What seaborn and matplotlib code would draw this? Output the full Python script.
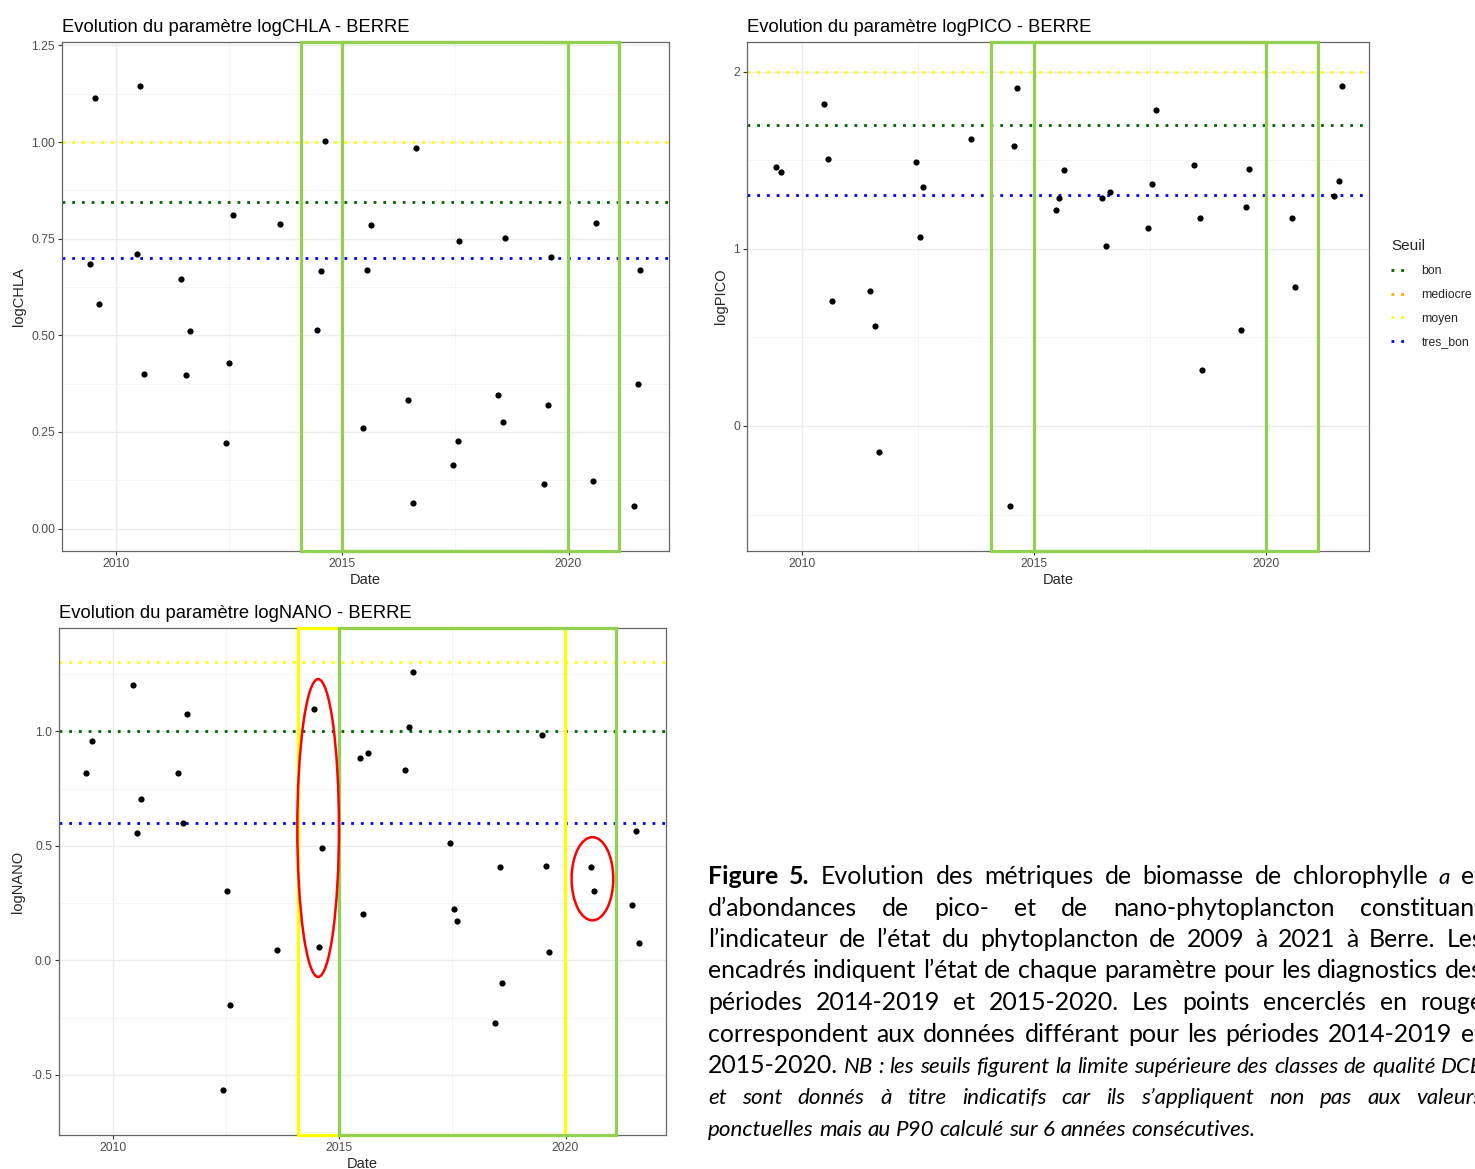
import numpy as np
import pandas as pd
import matplotlib
matplotlib.use("Agg")
import matplotlib.pyplot as plt
import matplotlib.transforms as mtransforms
from matplotlib.patches import Rectangle, Ellipse
from matplotlib.lines import Line2D
import seaborn as sns

# ---------------- data (decimal years, log10 values) ----------------
chla_date = [2009.43, 2009.54, 2009.62, 2010.46, 2010.54, 2010.63, 2011.45, 2011.56, 2011.64,
             2012.43, 2012.51, 2012.59, 2013.63, 2014.44, 2014.54, 2014.63, 2015.47, 2015.54,
             2015.64, 2016.46, 2016.56, 2016.62, 2017.45, 2017.55, 2017.59, 2018.44, 2018.56,
             2018.60, 2019.46, 2019.54, 2019.62, 2020.54, 2020.60, 2021.44, 2021.54, 2021.58]
chla_val = [0.684, 1.114, 0.581, 0.711, 1.146, 0.401, 0.647, 0.398, 0.511,
            0.221, 0.428, 0.811, 0.789, 0.515, 0.666, 1.003, 0.261, 0.668,
            0.785, 0.333, 0.067, 0.985, 0.164, 0.226, 0.745, 0.346, 0.275,
            0.752, 0.116, 0.319, 0.702, 0.124, 0.791, 0.058, 0.374, 0.669]

pico_date = [2009.43, 2009.55, 2010.47, 2010.56, 2010.65, 2011.46, 2011.58, 2011.66, 2012.45,
             2012.53, 2012.61, 2013.64, 2014.47, 2014.57, 2014.64, 2015.47, 2015.54, 2015.64,
             2016.47, 2016.56, 2016.63, 2017.46, 2017.55, 2017.62, 2018.45, 2018.58, 2018.62,
             2019.47, 2019.57, 2019.64, 2020.56, 2020.63, 2021.47, 2021.57, 2021.63]
pico_val = [1.460, 1.435, 1.819, 1.506, 0.706, 0.760, 0.565, -0.149, 1.492,
            1.069, 1.351, 1.617, -0.452, 1.581, 1.909, 1.220, 1.286, 1.446,
            1.286, 1.016, 1.323, 1.117, 1.363, 1.782, 1.474, 1.173, 0.317,
            0.544, 1.234, 1.452, 1.173, 0.786, 1.298, 1.381, 1.919]

nano_date = [2009.41, 2009.53, 2010.45, 2010.54, 2010.63, 2011.43, 2011.55, 2011.63, 2012.43,
             2012.52, 2012.58, 2013.62, 2014.44, 2014.55, 2014.63, 2015.47, 2015.52, 2015.63,
             2016.45, 2016.54, 2016.62, 2017.45, 2017.54, 2017.60, 2018.45, 2018.56, 2018.60,
             2019.47, 2019.56, 2019.64, 2020.56, 2020.63, 2021.47, 2021.56, 2021.62]
nano_val = [0.819, 0.956, 1.203, 0.555, 0.705, 0.816, 0.601, 1.076, -0.567,
            0.302, -0.194, 0.046, 1.098, 0.058, 0.490, 0.882, 0.202, 0.907,
            0.833, 1.019, 1.258, 0.512, 0.224, 0.172, -0.272, 0.409, -0.098,
            0.983, 0.413, 0.035, 0.408, 0.305, 0.242, 0.567, 0.076]

# seuils (bon, mediocre, moyen, tres_bon); mediocre is off the charts
seuil_names = ["bon", "mediocre", "moyen", "tres_bon"]
chla_seuils = [0.845, np.nan, 1.0, 0.699]
pico_seuils = [1.699, np.nan, 2.0, 1.301]
nano_seuils = [1.0, np.nan, 1.301, 0.602]

# diagnostic periods 2014-2019 and 2015-2020
period_start = [2014.08, 2015.0]
period_end = [2019.99, 2021.12]
# years whose NANO points differ between the two diagnostics
circled_years = [2014, 2020]

caption_lines = [
    [("Figure 5.", "bold"), ("Evolution des métriques de biomasse de chlorophylle", "normal"),
     ("a", "italic"), ("et", "normal")],
    [("d’abondances de pico- et de nano-phytoplancton constituant", "normal")],
    [("l’indicateur de l’état du phytoplancton de 2009 à 2021 à Berre. Les", "normal")],
    [("encadrés indiquent l’état de chaque paramètre pour les diagnostics des", "normal")],
    [("périodes 2014-2019 et 2015-2020. Les points encerclés en rouge", "normal")],
    [("correspondent aux données différant pour les périodes 2014-2019 et", "normal")],
    [("2015-2020.", "normal"),
     ("NB : les seuils figurent la limite supérieure des classes de qualité DCE", "italic")],
    [("et sont donnés à titre indicatifs car ils s’appliquent non pas aux valeurs", "italic")],
    [("ponctuelles mais au P90 calculé sur 6 années consécutives.", "italic")],
]

# ---------------- styling ----------------
seuil_colors = {"bon": "#006400", "mediocre": "orange", "moyen": "yellow", "tres_bon": "blue"}
box_green = "#92D050"
box_yellow = "#FFFF00"
dotted = (0, (1, 2.5))

sns.set_theme(style="white")
plt.rcParams["font.family"] = ["Liberation Sans", "DejaVu Sans"]

W, H = 1475, 1169
fig = plt.figure(figsize=(W / 100, H / 100), dpi=100)


def px_axes(l, t, r, b):
    return fig.add_axes([l / W, 1 - b / H, (r - l) / W, (b - t) / H])


def draw_panel(ax, dates, vals, seuils, param, ylim, yticks, ylabels, yminor, box_colors):
    df = pd.DataFrame({"Date": dates, param: vals})
    ax.set_facecolor("white")
    ax.set_xlim(2008.81, 2022.22)
    ax.set_ylim(*ylim)
    ax.set_xticks([2010, 2015, 2020])
    ax.set_xticks([2012.5, 2017.5], minor=True)
    ax.set_yticks(yticks)
    ax.set_yticklabels(ylabels)
    ax.set_yticks(yminor, minor=True)
    ax.grid(which="major", color="#EBEBEB", lw=1.0, zorder=0)
    ax.grid(which="minor", color="#F2F2F2", lw=0.6, zorder=0)
    ax.set_axisbelow(True)
    ax.tick_params(which="major", length=3, width=0.8, color="#333333",
                   labelsize=8.8, labelcolor="#4D4D4D", pad=2, bottom=True, left=True)
    ax.tick_params(which="minor", length=0)
    for sp in ax.spines.values():
        sp.set_color("#666666")
        sp.set_linewidth(0.9)

    for name, v in zip(seuil_names, seuils):
        if not np.isnan(v):
            ax.axhline(v, color=seuil_colors[name], ls=dotted, lw=2.0, zorder=2)

    sns.scatterplot(data=df, x="Date", y=param, color="black", s=20, linewidth=0,
                    ax=ax, zorder=3, legend=False)

    ax.set_title(f"Evolution du paramètre {param} - BERRE", loc="left", fontsize=13.2,
                 pad=7, color="black")
    ax.set_xlabel("Date", fontsize=10.5, labelpad=2)
    ax.set_ylabel(param, fontsize=10.5, labelpad=4)

    trans = mtransforms.blended_transform_factory(ax.transData, ax.transAxes)
    for s, e, c in zip(period_start, period_end, box_colors):
        ax.add_patch(Rectangle((s, 0), e - s, 1, transform=trans, fill=False,
                               edgecolor=c, lw=2.3, clip_on=False, zorder=5))


ax1 = px_axes(62, 42, 669, 551)
ax2 = px_axes(747, 42, 1369, 551)
ax3 = px_axes(59, 628, 666, 1135)

draw_panel(ax1, chla_date, chla_val, chla_seuils, "logCHLA", (-0.058, 1.259),
           [0, 0.25, 0.5, 0.75, 1.0, 1.25], ["0.00", "0.25", "0.50", "0.75", "1.00", "1.25"],
           [0.125, 0.375, 0.625, 0.875, 1.125], [box_green, box_green])
draw_panel(ax2, pico_date, pico_val, pico_seuils, "logPICO", (-0.706, 2.167),
           [0, 1, 2], ["0", "1", "2"], [-0.5, 0.5, 1.5], [box_green, box_green])
draw_panel(ax3, nano_date, nano_val, nano_seuils, "logNANO", (-0.762, 1.451),
           [-0.5, 0, 0.5, 1.0], ["-0.5", "0.0", "0.5", "1.0"],
           [-0.75, -0.25, 0.25, 0.75, 1.25], [box_yellow, box_green])

# red ellipses around the NANO points that differ between diagnostics
nd = np.array(nano_date)
nv = np.array(nano_val)
for yr in circled_years:
    sel = (nd >= yr) & (nd < yr + 1)
    xc = (nd[sel].min() + nd[sel].max()) / 2
    yc = (nv[sel].min() + nv[sel].max()) / 2
    hgt = nv[sel].max() - nv[sel].min() + 0.26
    ax3.add_patch(Ellipse((xc, yc), 0.92, hgt, fill=False, edgecolor="red", lw=1.8, zorder=6))

# legend
handles = [Line2D([0], [0], color=seuil_colors[n], ls=dotted, lw=2.0) for n in seuil_names]
leg = fig.legend(handles, seuil_names, title="Seuil", loc="upper left",
                 bbox_to_anchor=(1391 / W, 1 - 239 / H), frameon=False, fontsize=8.8,
                 title_fontsize=11, handlelength=1.4, handletextpad=1.1, labelspacing=0.95,
                 alignment="left", borderpad=0, borderaxespad=0)
leg._legend_box.sep = 9

# caption (justified, runs past the right edge like the source page)
cap_font = ["Lato", "DejaVu Sans"]
x0, x1 = 708, 1483
base0, step = 884, 31.5
renderer = fig.canvas.get_renderer()


def text_width(s, size, st):
    t = fig.text(0, 0, s, fontsize=size, family=cap_font,
                 fontweight="bold" if st == "bold" else "normal",
                 fontstyle="italic" if st == "italic" else "normal")
    w = t.get_window_extent(renderer).width
    t.remove()
    return w


def natural_width(words, size):
    sp = text_width("a a", size, words[0][1]) - text_width("aa", size, words[0][1])
    return sum(text_width(w, size, st) for w, st in words) + sp * (len(words) - 1)


def split_words(line):
    return [(w, st) for seg, st in line for w in seg.split()]


# regular size fitted on line 4 (natural spacing), italic size on line 9
size_reg = 10 * (x1 - x0) / natural_width(split_words(caption_lines[3]), 10)
size_it = 10 * (1255 - x0) / natural_width(split_words(caption_lines[8]), 10)
sizes = {"normal": size_reg, "bold": size_reg, "italic": size_it}

for i, line in enumerate(caption_lines):
    words = split_words(line)
    arts = []
    for w, st in words:
        t = fig.text(0, 0, w, fontsize=sizes[st], family=cap_font, va="baseline",
                     fontweight="bold" if st == "bold" else "normal",
                     fontstyle="italic" if st == "italic" else "normal", color="black")
        arts.append(t)
    widths = [t.get_window_extent(renderer).width for t in arts]
    space = text_width("a a", size_reg, "normal") - text_width("aa", size_reg, "normal")
    if i < len(caption_lines) - 1:
        gap = max((x1 - x0 - sum(widths)) / (len(words) - 1), 0.7 * space)
    else:
        gap = text_width("a a", size_it, "italic") - text_width("aa", size_it, "italic")
    x = x0
    y = H - (base0 + i * step)
    for t, w in zip(arts, widths):
        t.set_position((x / W, y / H))
        x += w + gap

fig.savefig("out.png", dpi=100)
